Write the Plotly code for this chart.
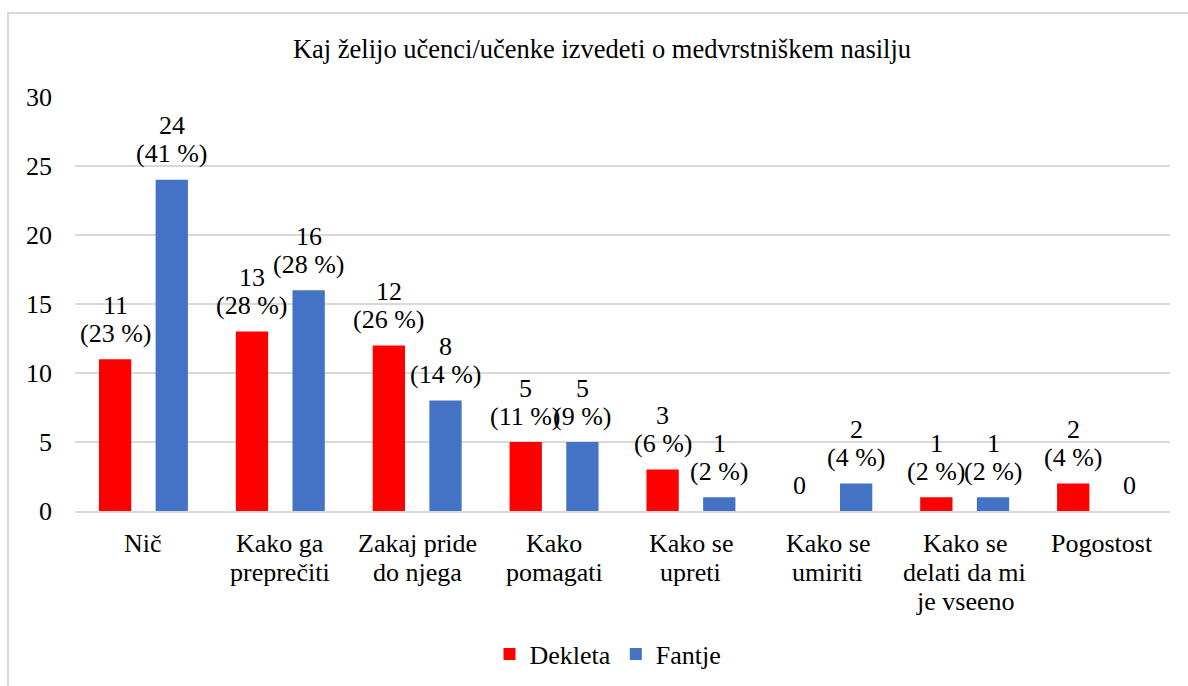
import plotly.graph_objects as go

categories = ["Nič", "Kako ga<br>preprečiti", "Zakaj pride<br>do njega", "Kako<br>pomagati",
              "Kako se<br>upreti", "Kako se<br>umiriti", "Kako se<br>delati da mi<br>je vseeno", "Pogostost"]
dekleta = [11, 13, 12, 5, 3, 0, 1, 2]
dekleta_pct = ["23 %", "28 %", "26 %", "11 %", "6 %", None, "2 %", "4 %"]
fantje = [24, 16, 8, 5, 1, 2, 1, 0]
fantje_pct = ["41 %", "28 %", "14 %", "9 %", "2 %", "4 %", "2 %", None]
series = [("Dekleta", dekleta, dekleta_pct, "#FF0000"),
          ("Fantje", fantje, fantje_pct, "#4472C4")]

FONT = "Liberation Serif"
FS = 26
W, H = 1188, 686
ML, MR, MT, MB = 75, 18, 97, 175
BARGAP, BARGROUPGAP = 0.172, 0.43

fig = go.Figure()
for name, vals, _, color in series:
    fig.add_trace(go.Bar(name=name, x=categories, y=vals, marker_color=color,
                         marker_line_width=0, cliponaxis=False))

# data labels: two tight lines above each bar, offset to the bar's slot in its group
cat_w = (W - ML - MR) / len(categories)
slot = cat_w * (1 - BARGAP) / len(series)
for si, (name, vals, pcts, _) in enumerate(series):
    dx = (si - (len(series) - 1) / 2) * slot
    for c, v, p in zip(categories, vals, pcts):
        lines = [str(v)] + ([f"({p})"] if p else [])
        for li, t in enumerate(reversed(lines)):
            fig.add_annotation(x=c, y=v, xref="x", yref="y", text=t, showarrow=False,
                               xshift=dx, yshift=26 + 28 * li, yanchor="middle",
                               font=dict(family=FONT, size=FS, color="#000"))

# category labels with tight line spacing
for c in categories:
    for li, t in enumerate(c.split("<br>")):
        fig.add_annotation(x=c, y=0, xref="x", yref="y", text=t, showarrow=False,
                           yshift=-32 - 29 * li, yanchor="middle",
                           font=dict(family=FONT, size=FS, color="#000"))

fig.update_layout(
    width=W, height=H,
    paper_bgcolor="white", plot_bgcolor="white",
    font=dict(family=FONT, size=FS, color="#000"),
    margin=dict(l=ML, r=MR, t=MT, b=MB, autoexpand=False),
    barmode="group", bargap=BARGAP, bargroupgap=BARGROUPGAP,
    title=dict(text="Kaj želijo učenci/učenke izvedeti o medvrstniškem nasilju",
               x=602/W, xanchor="center", xref="container", y=1 - 49/H, yanchor="middle",
               font=dict(family=FONT, size=26.5, color="#000")),
    legend=dict(orientation="h", x=(608 - ML) / (W - ML - MR), xanchor="center",
                y=-(654-511)/414, yanchor="middle",
                font=dict(family=FONT, size=FS), traceorder="normal", itemwidth=30),
    showlegend=True,
)
fig.update_yaxes(range=[0, 30], dtick=5, showgrid=True, gridcolor="#D9D9D9", gridwidth=1.5,
                 zeroline=False, showline=False, ticks="", tickfont=dict(family=FONT, size=FS),
                 ticklabelstandoff=22, automargin=False)
fig.update_xaxes(showline=True, linecolor="#D9D9D9", linewidth=2, ticks="",
                 showticklabels=False, automargin=False)

fig.add_shape(type="rect", xref="paper", yref="paper",
              x0=-67/(W - ML - MR), x1=1.05, y0=-0.5, y1=(511-13)/414,
              line=dict(color="#D9D9D9", width=2), fillcolor="rgba(0,0,0,0)", layer="below")

fig.write_html("out.html", post_script="document.body.style.margin='0';",
               config={"displayModeBar": False})
